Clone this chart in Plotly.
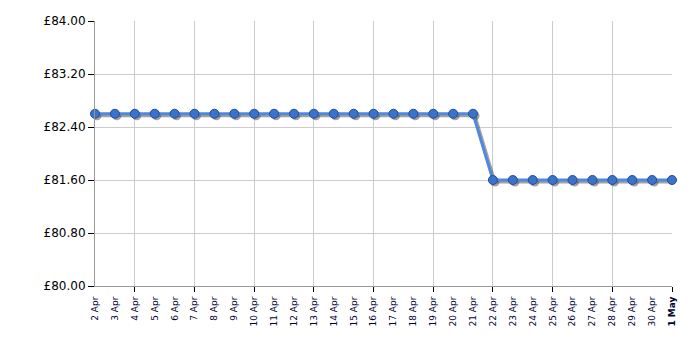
import plotly.graph_objects as go

dates = ["2 Apr", "3 Apr", "4 Apr", "5 Apr", "6 Apr", "7 Apr", "8 Apr", "9 Apr", "10 Apr",
         "11 Apr", "12 Apr", "13 Apr", "14 Apr", "15 Apr", "16 Apr", "17 Apr", "18 Apr",
         "19 Apr", "20 Apr", "21 Apr", "22 Apr", "23 Apr", "24 Apr", "25 Apr", "26 Apr",
         "27 Apr", "28 Apr", "29 Apr", "30 Apr", "1 May"]
prices = [82.60] * 20 + [81.60] * 10
y_ticks = [80.00, 80.80, 81.60, 82.40, 83.20, 84.00]
grid_dates = ["4 Apr", "7 Apr", "10 Apr", "13 Apr", "16 Apr", "19 Apr", "22 Apr", "25 Apr", "28 Apr", "1 May"]

W, H = 700, 350
L, R, T, B = 95, 28, 21, 64
pw, ph = W - L - R, H - T - B
n = len(dates)
xr = [0, n - 1]
yr = [80.0, 84.0]
dx = 2 * (xr[1] - xr[0]) / pw
dy = 2 * (yr[1] - yr[0]) / ph

ticktext = [("<b>%s</b>" % d) if "May" in d else d for d in dates]

fig = go.Figure()
# base axes (labels)
fig.add_trace(go.Scatter(x=dates, y=prices, mode="none", showlegend=False, hoverinfo="skip"))
# grid/tick overlay axis
fig.add_trace(go.Scatter(x=dates, y=prices, xaxis="x2", mode="none", showlegend=False, hoverinfo="skip"))
# shadow
fig.add_trace(go.Scatter(x=dates, y=prices, xaxis="x3", yaxis="y3", mode="lines+markers",
                         line=dict(color="rgba(70,70,70,0.5)", width=3),
                         marker=dict(size=9, color="rgba(70,70,70,0.5)"),
                         hoverinfo="skip", showlegend=False, cliponaxis=False))
# main series
fig.add_trace(go.Scatter(x=dates, y=prices, xaxis="x4", yaxis="y4", mode="lines+markers",
                         line=dict(color="#4f88dc", width=3),
                         marker=dict(size=9, color="#3a72cc", line=dict(color="#224f96", width=1)),
                         showlegend=False, cliponaxis=False))

fig.update_layout(
    width=W, height=H, margin=dict(l=L, r=R, t=T, b=B),
    paper_bgcolor="white", plot_bgcolor="white",
    font=dict(family="DejaVu Sans, Verdana, sans-serif", color="#000"),
    xaxis=dict(type="category", categoryorder="array", categoryarray=dates, range=xr,
               tickmode="array", tickvals=dates, ticktext=ticktext, tickangle=-90,
               tickfont=dict(size=9, color="#000033"), ticks="outside", ticklen=6,
               tickcolor="rgba(0,0,0,0)", showgrid=False,
               showline=True, linecolor="#999999", linewidth=1, zeroline=False),
    xaxis2=dict(type="category", categoryorder="array", categoryarray=dates, range=xr,
                overlaying="x", side="bottom", tickmode="array", tickvals=grid_dates,
                showticklabels=False, ticks="outside", ticklen=5, tickcolor="#000",
                showgrid=True, gridcolor="#cccccc", gridwidth=1, showline=False, zeroline=False),
    xaxis3=dict(type="category", categoryorder="array", categoryarray=dates,
                range=[xr[0] - dx, xr[1] - dx], overlaying="x", visible=False),
    xaxis4=dict(type="category", categoryorder="array", categoryarray=dates,
                range=xr, overlaying="x", visible=False),
    yaxis=dict(range=yr, tickmode="array", tickvals=y_ticks,
               ticktext=["£%.2f" % v for v in y_ticks], tickfont=dict(size=12, color="#000"),
               ticks="outside", ticklen=6, tickcolor="#000", showgrid=True, gridcolor="#cccccc",
               showline=True, linecolor="#999999", linewidth=1, zeroline=False, mirror=False),
    yaxis3=dict(range=[yr[0] + dy, yr[1] + dy], overlaying="y", visible=False),
    yaxis4=dict(range=yr, overlaying="y", visible=False),
)

fig.write_html("out.html")
